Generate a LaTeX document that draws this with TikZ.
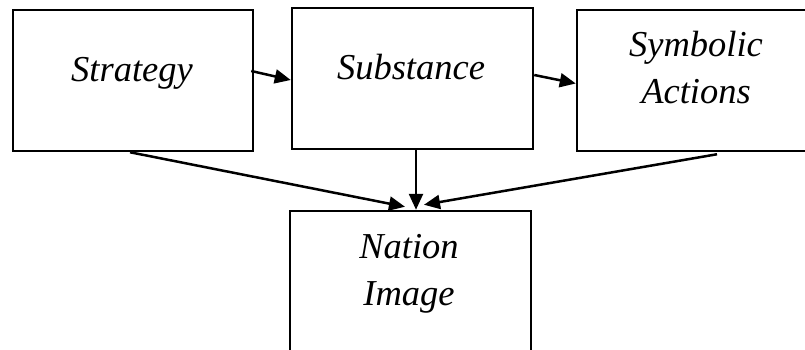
\documentclass[tikz,border=0pt]{standalone}
\usepackage{fontspec}
\setmainfont{Liberation Serif}
\usetikzlibrary{arrows.meta, positioning}

\begin{document}
\begin{tikzpicture}[x=1pt,y=-1pt, every node/.style={font=\fontsize{36.5}{47}\selectfont\itshape},
    box/.style={draw, rectangle, line width=2.5pt, minimum height=141pt, inner sep=0pt},
    txt/.style={inner sep=0pt, align=center, anchor=base},
    link/.style={-{Triangle[length=16pt, width=14pt]}, line width=2.5pt}]
    \clip (0,0) rectangle (805,350);
    \node[box, minimum width=240pt] (strat) at (133,80.5) {};
    \node[box, minimum width=241pt] (subst) at (412.5,78.5) {};
    \node[box, minimum width=238pt] (symb) at (696,80.5) {};
    \node[box, minimum width=241pt, minimum height=150pt] (nation) at (410.5,286) {};
    % base anchor sits on the last line
    \node[txt] (stratT) at (132,82) {Strategy};
    \node[txt] (substT) at (411,80) {Substance};
    \node[txt] (symbT) at (696,103) {Symbolic\\Actions};
    \node[txt] (nationT) at (409,305) {Nation\\Image};
    \draw[link] ([xshift=-3pt, yshift=9.5pt]strat.east) -- ([yshift=-1.5pt]subst.west);
    \draw[link] ([yshift=3.5pt]subst.east) -- ([yshift=-3pt]symb.west);
    \draw[link] ([xshift=-3pt]strat.south) -- ([xshift=-5.5pt, yshift=3pt]nation.north);
    \draw[link] ([xshift=3.5pt]subst.south) -- ([xshift=5.5pt]nation.north);
    \draw[link] ([xshift=21pt, yshift=-2pt]symb.south) -- ([xshift=13.5pt, yshift=5pt]nation.north);
\end{tikzpicture}
\end{document}
